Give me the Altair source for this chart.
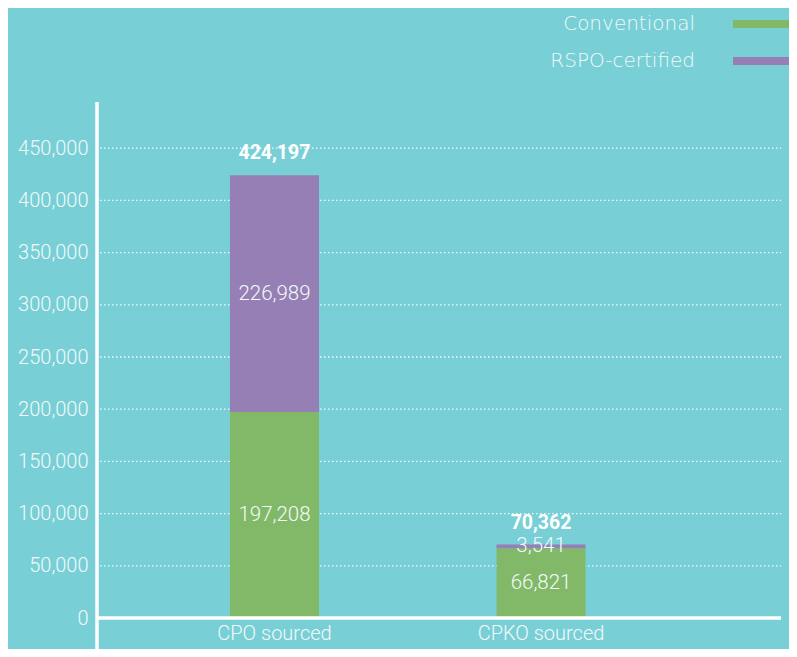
import altair as alt
import pandas as pd

# ---- data ----
categories = ["CPO sourced", "CPKO sourced"]
series = ["Conventional", "RSPO-certified"]
conventional = [197208, 66821]
rspo = [226989, 3541]
totals = [424197, 70362]
y_ticks = [0, 50000, 100000, 150000, 200000, 250000, 300000, 350000, 400000, 450000]

BG = "#79CFD6"
GREEN = "#82B969"
PURPLE = "#967FB4"
TXT = "#F2FAFA"
FONT = "Roboto"

rows = []
for i, c in enumerate(categories):
    rows.append({"category": c, "series": series[0], "value": conventional[i], "order": 0})
    rows.append({"category": c, "series": series[1], "value": rspo[i], "order": 1})
df = pd.DataFrame(rows)
tot_df = pd.DataFrame({"category": categories, "total": totals})
leg_df = pd.DataFrame({"series": series})
grid_df = pd.DataFrame({"tick": y_ticks[1:]})

W, H = 683, 522

xscale = alt.Scale(domain=categories, range=[0, 619.5], paddingInner=0.666, paddingOuter=0.495)
yscale = alt.Scale(domain=[0, 500000], nice=False)
color = alt.Color("series:N", scale=alt.Scale(domain=series, range=[GREEN, PURPLE]), legend=None)

x_axis = alt.Axis(title=None, domain=False, ticks=False, labelAngle=0, grid=False,
                  labelFont=FONT, labelFontSize=20, labelFontWeight=300,
                  labelColor=TXT, labelPadding=5)
y_axis = alt.Axis(title=None, values=y_ticks, labelExpr="format(datum.value, ',')",
                  domain=False, ticks=False, grid=False,
                  labelFont=FONT, labelFontSize=20, labelFontWeight=300,
                  labelColor=TXT, labelPadding=10)

X = alt.X("category:N", scale=xscale, sort=categories, axis=x_axis)

# dotted gridlines
grid = alt.Chart(grid_df).mark_rule(color="white", strokeDash=[1.5, 2.5], strokeWidth=1.3,
                                    opacity=0.9).encode(
    y=alt.Y("tick:Q", scale=yscale, axis=y_axis), x=alt.value(2), x2=alt.value(W)
)

base = alt.Chart(df)

bars = base.mark_bar().encode(
    x=X,
    y=alt.Y("value:Q", stack="zero", scale=yscale, axis=y_axis),
    color=color,
    order=alt.Order("order:Q"),
)

seg_labels = base.transform_stack(
    stack="value", groupby=["category"], as_=["v0", "v1"],
    sort=[alt.SortField("order", order="ascending")]
).transform_calculate(
    mid="(datum.v0 + datum.v1) / 2"
).mark_text(font=FONT, fontSize=20.5, fontWeight=300, color=TXT, baseline="middle").encode(
    x=X,
    y=alt.Y("mid:Q", scale=yscale, axis=y_axis),
    text=alt.Text("value:Q", format=","),
)

tot_labels = alt.Chart(tot_df).mark_text(
    font=FONT, fontSize=19.5, fontWeight="bold", color="white", baseline="bottom", dy=-12
).encode(
    x=X,
    y=alt.Y("total:Q", scale=yscale, axis=y_axis),
    text=alt.Text("total:Q", format=","),
)

# axis lines
x_line = alt.Chart(tot_df).mark_rule(color="white", strokeWidth=3).encode(
    y=alt.Y(datum=0, scale=yscale, axis=y_axis), x=alt.value(-1), x2=alt.value(W)
)
y_line = alt.Chart(tot_df).mark_rule(color="white", strokeWidth=3).encode(
    x=alt.value(-1), y=alt.value(6), y2=alt.value(H + 31)
)

# custom legend (labels left of swatches)
leg_y = alt.Y("series:N",
              scale=alt.Scale(type="point", domain=series, range=[-72, -35], padding=0),
              axis=None)
leg_text = alt.Chart(leg_df).mark_text(
    font="DejaVu Sans", fontSize=20, fontWeight=300, color=TXT, align="right", baseline="middle"
).encode(x=alt.value(597), y=leg_y, text="series:N")
leg_sw = alt.Chart(leg_df).mark_rule(strokeWidth=8).encode(
    x=alt.value(635), x2=alt.value(700), y=leg_y, color=color
)

main = alt.layer(grid, bars, seg_labels, tot_labels, x_line, y_line)
legend = alt.layer(leg_text, leg_sw)

chart = alt.layer(main, legend).resolve_scale(y="independent").properties(
    width=W, height=H, background=BG,
    autosize=alt.AutoSizeParams(type="none"),
    padding={"left": 90, "top": 88, "right": 8, "bottom": 31},
).configure_view(stroke=None)

chart.save("out.html", embed_options={"renderer": "svg", "actions": False})
